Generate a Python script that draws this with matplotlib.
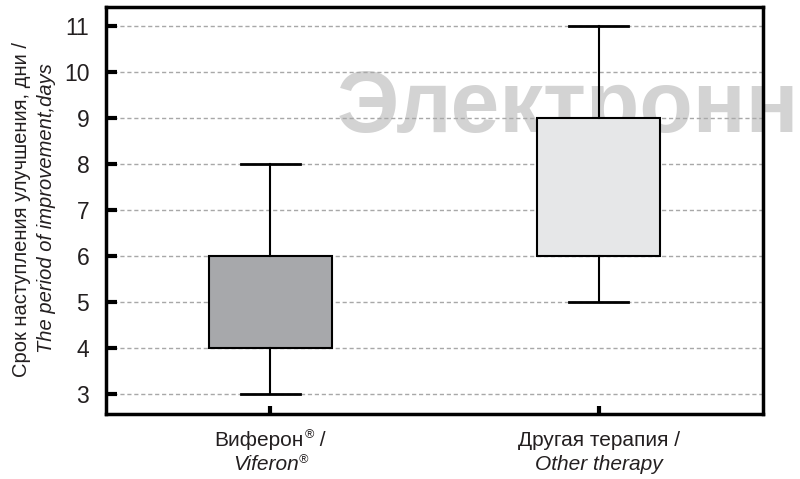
import numpy as np
import matplotlib.pyplot as plt
from matplotlib.transforms import blended_transform_factory, offset_copy

plt.rcParams['font.family'] = ['Liberation Sans', 'DejaVu Sans']

# box plot summary (days to improvement)
groups_ru = ['Виферон', 'Другая терапия /']
groups_en = ['Viferon', 'Other therapy']
reg_mark = [True, False]
q1 = [4, 6]
q3 = [6, 9]
whislo = [3, 5]
whishi = [8, 11]
box_colors = ['#a7a8ab', '#e6e7e8']
yticks = [3, 4, 5, 6, 7, 8, 9, 10, 11]

txt = '#231f20'

fig = plt.figure(figsize=(8, 4.79), dpi=100)
ax = fig.add_axes([0.1325, 0.1357, 0.8213, 0.8497])

# watermark, drawn under boxes
ax.text(337 / 800, 1 - 132 / 479, 'Электронн', transform=fig.transFigure,
        fontsize=63, fontweight='bold', color='#d3d3d3',
        ha='left', va='baseline', clip_on=False, zorder=0.5)

for y in yticks:
    ax.axhline(y, color='#a8a8a8', linestyle=(0, (3, 2)), linewidth=1, zorder=1)

# median line is not shown in the original, so it is hidden here
stats = []
for i in range(len(q1)):
    stats.append(dict(q1=q1[i], q3=q3[i], med=q1[i], whislo=whislo[i], whishi=whishi[i], fliers=[]))

bp = ax.bxp(stats, positions=[1, 2], widths=0.375, patch_artist=True, showfliers=False,
            boxprops=dict(edgecolor='black', linewidth=1.5),
            whiskerprops=dict(color='black', linewidth=1.5),
            capprops=dict(color='black', linewidth=2),
            medianprops=dict(linewidth=0), capwidths=0.18, zorder=3)
for patch, c in zip(bp['boxes'], box_colors):
    patch.set_facecolor(c)

ax.set_xlim(0.5, 2.5)
ax.set_ylim(2.56, 11.42)
ax.set_yticks(yticks)
ax.set_yticklabels([str(v) for v in yticks], fontsize=16.5, color=txt)
ax.set_xticks([1, 2])
ax.set_xticklabels(['', ''])
ax.tick_params(axis='y', direction='in', length=8, width=3, pad=12)
ax.tick_params(axis='x', direction='in', length=6, width=3)
for s in ax.spines.values():
    s.set_linewidth(2.5)
    s.set_zorder(4)

renderer = fig.canvas.get_renderer()
trans = blended_transform_factory(ax.transData, fig.transFigure)


def label_line(x, y, word, tail, italic):
    # word, small superscript (R) and optional tail, centred as a whole
    st = 'italic' if italic else 'normal'
    t1 = ax.text(x, y, word, transform=trans, ha='left', va='center', fontsize=15,
                 color=txt, style=st, clip_on=False)
    w1 = t1.get_window_extent(renderer).width
    parts = [t1]
    t2 = ax.text(x, y, '®', transform=offset_copy(trans, fig, x=w1 + 0.5, y=5, units='dots'),
                 ha='left', va='center', fontsize=9, color=txt, style=st, clip_on=False)
    w2 = t2.get_window_extent(renderer).width
    total = w1 + w2
    parts.append(t2)
    if tail:
        t3 = ax.text(x, y, tail, transform=offset_copy(trans, fig, x=w1 + w2 + 1, units='dots'),
                     ha='left', va='center', fontsize=15, color=txt, style=st, clip_on=False)
        total += t3.get_window_extent(renderer).width + 1
        parts.append(t3)
    shift = -total / 2
    t1.set_transform(offset_copy(trans, fig, x=shift, units='dots'))
    t2.set_transform(offset_copy(trans, fig, x=shift + w1 + 0.5, y=5, units='dots'))
    if tail:
        t3.set_transform(offset_copy(trans, fig, x=shift + w1 + w2 + 1, units='dots'))


for i, x in enumerate([1, 2]):
    if reg_mark[i]:
        label_line(x, 1 - 440 / 479, groups_ru[i], ' /', False)
        label_line(x, 1 - 465 / 479, groups_en[i], '', True)
    else:
        ax.text(x, 1 - 440 / 479, groups_ru[i], transform=trans, ha='center', va='center',
                fontsize=15, color=txt, clip_on=False)
        ax.text(x, 1 - 465 / 479, groups_en[i], transform=trans, ha='center', va='center',
                fontsize=15, color=txt, style='italic', clip_on=False)

fig.text(22 / 800, 1 - 209 / 479, 'Срок наступления улучшения, дни /', rotation=90,
         ha='center', va='center', fontsize=14.5, color=txt)
fig.text(47 / 800, 1 - 208 / 479, 'The period of improvement,days', rotation=90,
         ha='center', va='center', fontsize=14.5, color=txt, style='italic')

fig.savefig('out.png', dpi=100)
